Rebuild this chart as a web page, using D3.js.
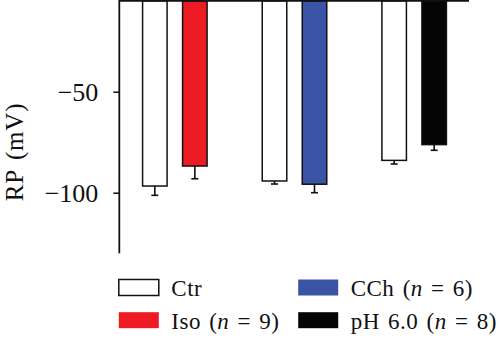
<!DOCTYPE html>
<html>
<head>
<meta charset="utf-8">
<script src="https://d3js.org/d3.v7.min.js"></script>
<style>
  html, body { margin: 0; padding: 0; background: #fff; }
  svg text { font-family: "Liberation Serif", "Times New Roman", serif !important; fill: #111; }
</style>
</head>
<body>
<svg id="chart" width="500" height="340"></svg>
<script>
// Resting potential (mV) for each experiment: control vs. treatment
const groups = ["Iso", "CCh", "pH"];
const conditions = ["ctr", "treat"];
const ctrValues = [-96.7, -94.2, -84.0];
const ctrErrors = [4.6, 1.5, 1.8];
const treatValues = [-86.8, -95.8, -76.2];
const treatErrors = [6.3, 4.2, 2.8];
const treatColors = ["#ed1c24", "#3a53a4", "#050505"];
const yTicks = [-50, -100];
const legendItems = [
  { label: "Ctr", fill: "#ffffff" },
  { label: "CCh", n: "6", fill: "#3a53a4" },
  { label: "Iso", n: "9", fill: "#ed1c24" },
  { label: "pH 6.0", n: "8", fill: "#050505" }
];

const svg = d3.select("#chart");

const y = d3.scaleLinear().domain([-5, -130]).range([0.8, 253.3]);
const x = d3.scaleBand().domain(groups).range([115, 474]).padding(0);
const xi = d3.scaleBand().domain(conditions).range([-40, 40])
  .paddingInner(0.3875).paddingOuter(0.19375);

const bars = [];
groups.forEach((g, i) => {
  bars.push({ g, c: "ctr", v: ctrValues[i], e: ctrErrors[i], fill: "#ffffff" });
  bars.push({ g, c: "treat", v: treatValues[i], e: treatErrors[i], fill: treatColors[i] });
});
const bx = d => x(d.g) + x.bandwidth() / 2 + xi(d.c);

// error bars (lower side only)
const eb = svg.append("g").attr("stroke", "#111").attr("stroke-width", 1.6);
bars.forEach(d => {
  const cx = bx(d) + xi.bandwidth() / 2;
  eb.append("line").attr("x1", cx).attr("x2", cx)
    .attr("y1", y(d.v)).attr("y2", y(d.v - d.e));
  eb.append("line").attr("x1", cx - 3.5).attr("x2", cx + 3.5)
    .attr("y1", y(d.v - d.e)).attr("y2", y(d.v - d.e));
});

// bars hang down from the top baseline
svg.append("g").selectAll("rect").data(bars).join("rect")
  .attr("x", d => bx(d))
  .attr("y", y(-5))
  .attr("width", xi.bandwidth())
  .attr("height", d => y(d.v) - y(-5))
  .attr("fill", d => d.fill)
  .attr("stroke", "#111")
  .attr("stroke-width", 1.5);

// top baseline
svg.append("line")
  .attr("x1", 118.5).attr("x2", 469)
  .attr("y1", y(-5)).attr("y2", y(-5))
  .attr("stroke", "#111").attr("stroke-width", 2);

// y axis
const yAxis = d3.axisLeft(y).tickValues(yTicks).tickSize(6).tickPadding(15)
  .tickFormat(d => d3.format("")(d).replace("-", "\u2212"));
const ya = svg.append("g").attr("transform", "translate(119.3,0)").call(yAxis);
ya.attr("font-family", null).attr("font-size", null);
ya.select(".domain").attr("stroke", "#111").attr("stroke-width", 1.8)
  .attr("d", `M0,${y(-5)}V${y(-130)}`);
ya.selectAll(".tick line").attr("stroke", "#111").attr("stroke-width", 1.5);
ya.selectAll(".tick text").attr("font-size", 26).attr("dy", "0.34em").attr("fill", "#111");

// y axis title
svg.append("text")
  .attr("transform", `translate(23,152) rotate(-90)`)
  .attr("text-anchor", "middle")
  .attr("font-size", 25)
  .attr("letter-spacing", 0.8)
  .attr("word-spacing", 3)
  .text("RP (mV)");

// legend
const lg = svg.append("g");
const legPos = [[118.3, 279], [297.7, 279], [118.3, 311.7], [297.7, 311.7]];
legendItems.forEach((d, i) => {
  const [lx, ly] = legPos[i];
  lg.append("rect").attr("x", lx + 0.5).attr("y", ly + 0.5)
    .attr("width", 40).attr("height", 16)
    .attr("fill", d.fill)
    .attr("stroke", d.fill === "#ffffff" ? "#111" : "none")
    .attr("stroke-width", 1.5);
  const t = lg.append("text").attr("x", lx + 53).attr("y", ly + 17.3)
    .attr("font-size", 23)
    .attr("letter-spacing", 0.5)
    .attr("word-spacing", 2);
  t.append("tspan").text(d.label);
  if (d.n) {
    t.append("tspan").text(" (");
    t.append("tspan").attr("font-style", "italic").text("n");
    t.append("tspan").text(" = " + d.n + ")");
  }
});
</script>
</body>
</html>
